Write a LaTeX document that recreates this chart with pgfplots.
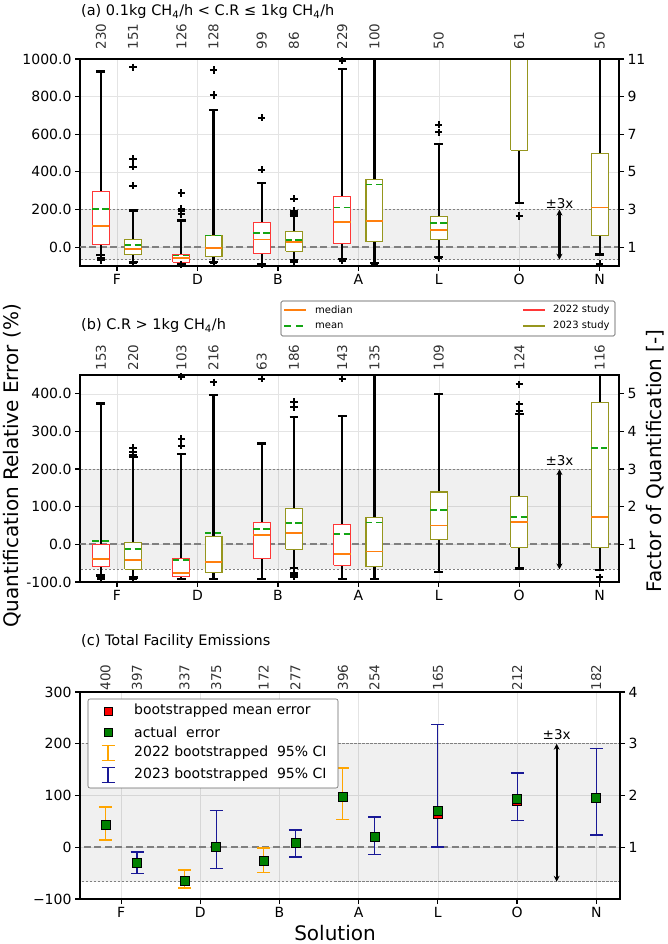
\documentclass[border=0pt]{standalone}
\usepackage{fontspec}
\setmainfont{DejaVu Sans}
\usepackage{pgfplots}
\pgfplotsset{compat=1.18}
\usetikzlibrary{arrows.meta}

\definecolor{boxred}{RGB}{255,55,55}
\definecolor{boxolive}{RGB}{150,150,30}
\definecolor{medorange}{RGB}{255,127,14}
\definecolor{meangreen}{RGB}{20,165,20}
\definecolor{ciorange}{RGB}{255,165,0}
\definecolor{cinavy}{RGB}{25,25,150}
\definecolor{ptgreen}{RGB}{0,128,0}
\definecolor{refgray}{RGB}{128,128,128}
\definecolor{gridgray}{RGB}{228,228,228}

\newcommand{\fs}[1]{\fontsize{#1}{#1}\selectfont}

\pgfplotsset{
  base/.style={width=539pt, height=207pt, scale only axis,
    xmin=0.54, xmax=7.24,
    tick align=outside, major tick length=5pt,
    axis line style={line width=1.4pt},
    tick style={black, line width=1.2pt},
    tick label style={font=\fs{14}},
  },
  panel/.style={base, xtick={1,...,7}, xticklabels={F,D,B,A,L,O,N},
    xtick pos=bottom, ytick pos=left,
    grid=major, grid style={gridgray, line width=0.6pt}},
  twin/.style={base, axis x line*=top, axis y line*=right,
    xtick={0.8,1.2,1.8,2.2,2.8,3.2,3.8,4.2,5,6,7},
    xtick style={draw=none},
    xticklabel style={rotate=90, anchor=west, font=\fs{13.5}, text=black!80}},
}

% box: position, colour, lower whisker, lower quartile, median, upper quartile, upper whisker, mean, fliers
\newcommand{\bx}[9]{%
  \pgfmathsetmacro\boxl{#1-0.105}\pgfmathsetmacro\boxr{#1+0.105}%
  \pgfmathsetmacro\capl{#1-0.055}\pgfmathsetmacro\capr{#1+0.055}%
  \addplot[black, line width=2.2pt] coordinates {(#1,#6) (#1,#7)};
  \addplot[black, line width=2.2pt] coordinates {(#1,#4) (#1,#3)};
  \addplot[black, line width=2.2pt] coordinates {(\capl,#7) (\capr,#7)};
  \addplot[black, line width=2.2pt] coordinates {(\capl,#3) (\capr,#3)};
  \addplot[draw=#2, fill=white, line width=1.1pt] coordinates {(\boxl,#4) (\boxr,#4) (\boxr,#6) (\boxl,#6) (\boxl,#4)};
  \addplot[medorange, line width=1.9pt] coordinates {(\boxl,#5) (\boxr,#5)};
  \addplot[meangreen, line width=1.9pt, dash pattern=on 6.3pt off 3.6pt] coordinates {(\boxl,#8) (\boxr,#8)};
  \addplot[only marks, mark=+, mark size=3.6pt, mark options={black, line width=2pt}]
    table[row sep=\\, x expr=#1, y index=0] {y\\ #9};
}

\newcommand{\refband}{%
  \fill[black, opacity=0.06] (axis cs:0,-66.67) rectangle (axis cs:8,200);
  \addplot[refgray, line width=0.8pt, dash pattern=on 2.5pt off 1.5pt] coordinates {(0,200) (8,200)};
  \addplot[refgray, line width=0.8pt, dash pattern=on 2.5pt off 1.5pt] coordinates {(0,-66.67) (8,-66.67)};
  \addplot[refgray, line width=2.2pt, dash pattern=on 7pt off 3.5pt] coordinates {(0,0) (8,0)};
}

\newcommand{\threex}[1]{%
  \addplot[black, line width=2.1pt, {Stealth[length=6pt,width=6pt]}-{Stealth[length=6pt,width=6pt]}]
    coordinates {(6.5,-66.67) (6.5,200)};
  \node[anchor=south, font=\fs{13.5}, inner sep=#1] at (axis cs:6.5,200) {±3x};
}

% error-bar legend symbol at (x,y) in picture coordinates
\newcommand{\cisym}[3]{%
  \draw[#1, line width=1.1pt] (#2pt,#3pt-7.5pt) -- (#2pt,#3pt+7.5pt);
  \draw[#1, line width=1.6pt] (#2pt-6.5pt,#3pt-7.5pt) -- (#2pt+6.5pt,#3pt-7.5pt)
    (#2pt-6.5pt,#3pt+7.5pt) -- (#2pt+6.5pt,#3pt+7.5pt);
}

\begin{document}
\begin{tikzpicture}
\useasboundingbox (0pt,0pt) rectangle (667pt,944pt);

% ---------------- (a)
\begin{axis}[panel, at={(80pt,678pt)}, anchor=south west,
  ymin=-100, ymax=1000, ytick={0,200,...,1000},
  yticklabels={0.0,200.0,400.0,600.0,800.0,1000.0}]
\refband
\bx{0.8}{boxred}{-40}{12}{111}{296}{934}{204}{-55\\ -62\\ -70\\}
\bx{1.2}{boxolive}{-80}{-39}{-9}{42}{195}{12}{956\\ 469\\ 428\\ 327\\ -86\\}
\bx{1.8}{boxred}{-88}{-80}{-58}{-39}{142}{-44}{288\\ 204\\ 190\\ 176\\ -93\\}
\bx{2.2}{boxolive}{-80}{-50}{-4}{60}{729}{62}{942\\ 809\\ -86\\}
\bx{2.8}{boxred}{-88}{-35}{41}{133}{343}{74}{687\\ 412\\ -93\\}
\bx{3.2}{boxolive}{-68}{-21}{28}{83}{168}{38}{257\\ 192\\ 184\\ -75\\ -80\\}
\bx{3.8}{boxred}{-62}{18}{136}{271}{947}{211}{991\\ -72\\}
\bx{4.2}{boxolive}{-82}{28}{138}{358}{1100}{333}{-88\\}
\bx{5}{boxolive}{-53}{42}{90}{165}{547}{127}{651\\ 611\\ -60\\}
\bx{6}{boxolive}{235}{515}{1100}{1200}{1500}{1300}{166\\}
\bx{7}{boxolive}{-39}{62}{211}{497}{1100}{1300}{-88\\}
\threex{1pt}
\end{axis}
\begin{axis}[twin, at={(80pt,678pt)}, anchor=south west,
  ymin=0, ymax=11, ytick={1,3,5,7,9,11}, yticklabels={1,3,5,7,9,11},
  xticklabels={230,151,126,128,99,86,229,100,50,61,50}, xticklabel shift=1pt]
\end{axis}

% ---------------- (b)
\begin{axis}[panel, at={(80pt,362pt)}, anchor=south west,
  ymin=-100, ymax=450, ytick={-100,0,...,400},
  yticklabels={-100.0,0.0,100.0,200.0,300.0,400.0}]
\refband
\bx{0.8}{boxred}{-83}{-58}{-40}{0}{374}{10}{-90\\ -93\\}
\bx{1.2}{boxolive}{-88}{-66}{-41}{4}{232}{-12}{256\\ 246\\ 238\\ -93\\}
\bx{1.8}{boxred}{-93}{-86}{-77}{-37}{241}{-41}{445\\ 280\\ 262\\}
\bx{2.2}{boxolive}{-93}{-74}{-46}{21}{396}{31}{431\\}
\bx{2.8}{boxred}{-93}{-37}{26}{57}{268}{42}{440\\}
\bx{3.2}{boxolive}{-62}{-13}{31}{96}{339}{56}{378\\ 365\\ -76\\ -82\\ -86\\}
\bx{3.8}{boxred}{-92}{-55}{-25}{53}{340}{27}{440\\}
\bx{4.2}{boxolive}{-92}{-59}{-19}{71}{600}{58}{900\\}
\bx{5}{boxolive}{-73}{13}{50}{139}{400}{91}{900\\}
\bx{6}{boxolive}{-64}{-8}{59}{126}{347}{73}{425\\ 372\\ 355\\}
\bx{7}{boxolive}{-68}{-9}{72}{378}{600}{256}{-87\\}
\threex{3pt}
\end{axis}
\begin{axis}[twin, at={(80pt,362pt)}, anchor=south west,
  ymin=0, ymax=5.5, ytick={1,...,5}, yticklabels={1,2,3,4,5},
  xticklabels={153,220,103,216,63,186,143,135,109,124,116}, xticklabel shift=-4pt]
\end{axis}

% ---------------- (c)
\begin{axis}[panel, at={(80pt,45pt)}, anchor=south west, width=540pt,
  xmin=0.48, xmax=7.30,
  ymin=-100, ymax=300, ytick={-100,0,...,300},
  yticklabels={−100,0,100,200,300}]
\refband
\addplot[only marks, mark=square*, mark size=4.5pt, mark options={fill=red, draw=black, line width=0.6pt},
  error bars/.cd, y dir=both, y explicit,
  error bar style={ciorange, line width=1.1pt},
  error mark options={ciorange, rotate=90, mark size=6.5pt, line width=1.6pt}]
  coordinates {(0.8,44) += (0,34) -= (0,30)
               (1.8,-64) += (0,20) -= (0,15)
               (2.8,-26) += (0,25) -= (0,23)
               (3.8,97) += (0,56) -= (0,43)};
\addplot[only marks, mark=square*, mark size=4.5pt, mark options={fill=red, draw=black, line width=0.6pt},
  error bars/.cd, y dir=both, y explicit,
  error bar style={cinavy, line width=1.1pt},
  error mark options={cinavy, rotate=90, mark size=6.5pt, line width=1.6pt}]
  coordinates {(1.2,-30) += (0,21) -= (0,21)
               (2.2,1) += (0,70) -= (0,42)
               (3.2,8) += (0,25) -= (0,27)
               (4.2,20) += (0,38) -= (0,34)
               (5,64) += (0,173) -= (0,63.4)
               (6,90) += (0,54) -= (0,38)
               (7,95) += (0,96) -= (0,71)};
\addplot[only marks, mark=square*, mark size=4.5pt, mark options={fill=ptgreen, draw=black, line width=0.6pt}]
  coordinates {(0.8,44) (1.2,-30) (1.8,-64) (2.2,1) (2.8,-26) (3.2,8) (3.8,97) (4.2,20) (5,70) (6,93) (7,95)};
\addplot[black, line width=2.1pt, {Stealth[length=6pt,width=6pt]}-{Stealth[length=6pt,width=6pt]}]
  coordinates {(6.5,-66.67) (6.5,200)};
\node[anchor=south, font=\fs{13.5}, inner sep=4pt] at (axis cs:6.5,200) {±3x};
\end{axis}
\begin{axis}[twin, at={(80pt,45pt)}, anchor=south west, width=540pt,
  xmin=0.48, xmax=7.30,
  ymin=0, ymax=4, ytick={1,...,4}, yticklabels={1,2,3,4},
  xticklabels={400,397,337,375,172,277,396,254,165,212,182}, xticklabel shift=-7pt]
\end{axis}

% legend between (a) and (b)
\draw[black!70, fill=white, rounded corners=1.5pt, line width=0.6pt] (281pt,608pt) rectangle (615pt,643pt);
\draw[medorange, line width=1.9pt] (284pt,634pt) -- (306pt,634pt);
\draw[meangreen, line width=1.9pt, dash pattern=on 7pt off 5pt] (284pt,618pt) -- (306pt,618pt);
\draw[boxred, line width=1.4pt] (523pt,634pt) -- (545pt,634pt);
\draw[boxolive, line width=1.4pt] (523pt,618pt) -- (545pt,618pt);
\node[anchor=west, font=\fs{10}, inner sep=0pt] at (315pt,634pt) {median};
\node[anchor=west, font=\fs{10}, inner sep=0pt] at (315pt,618pt) {mean};
\node[anchor=west, font=\fs{10}, inner sep=0pt] at (553pt,634pt) {2022 study};
\node[anchor=west, font=\fs{10}, inner sep=0pt] at (553pt,618pt) {2023 study};

% legend of (c)
\draw[black!60, fill=white, rounded corners=2pt, line width=0.6pt] (88pt,156pt) rectangle (338pt,245pt);
\filldraw[fill=red, draw=black, line width=0.6pt] (104pt,229pt) rectangle (112pt,237pt);
\filldraw[fill=ptgreen, draw=black, line width=0.6pt] (104pt,208pt) rectangle (112pt,216pt);
\cisym{ciorange}{108}{191}
\cisym{cinavy}{108}{169}
\node[anchor=west, font=\fs{14}, inner sep=0pt] at (134pt,233pt) {bootstrapped mean error};
\node[anchor=west, font=\fs{14}, inner sep=0pt] at (134pt,212pt) {actual\ \ error};
\node[anchor=west, font=\fs{14}, inner sep=0pt] at (134pt,191pt) {2022 bootstrapped\ \ 95\% CI};
\node[anchor=west, font=\fs{14}, inner sep=0pt] at (134pt,169pt) {2023 bootstrapped\ \ 95\% CI};

% titles and labels
\node[anchor=base west, font=\fs{14.5}, inner sep=0pt] at (81pt,928pt)
  {(a) 0.1kg CH\textsubscript{4}/h < C.R ≤ 1kg CH\textsubscript{4}/h};
\node[anchor=base west, font=\fs{14.5}, inner sep=0pt] at (81pt,614pt)
  {(b) C.R > 1kg CH\textsubscript{4}/h};
\node[anchor=base west, font=\fs{14.5}, inner sep=0pt] at (81pt,298pt)
  {(c) Total Facility Emissions};
\node[rotate=90, font=\fs{20}] at (12pt,478pt) {Quantification Relative Error (\%)};
\node[rotate=90, font=\fs{20}] at (655pt,483pt) {Factor of Quantification [-]};
\node[anchor=base, font=\fs{20}, inner sep=0pt] at (335pt,4pt) {Solution};
\end{tikzpicture}
\end{document}
